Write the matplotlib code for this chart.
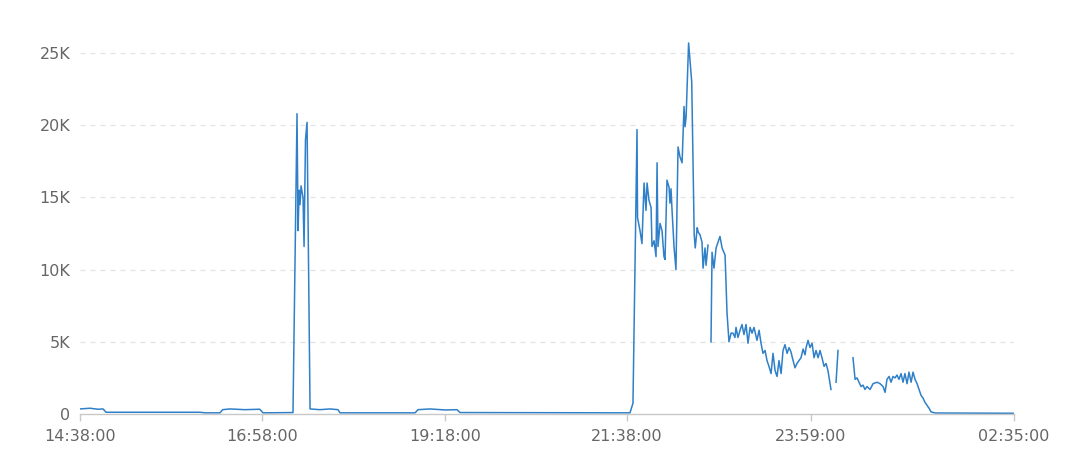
import matplotlib
matplotlib.use("Agg")
import matplotlib.pyplot as plt
import matplotlib.dates as mdates
import numpy as np
import pandas as pd

# minutes after 14:38:00, and values; NaN marks a gap in the series
minutes = [
    0, 7.7, 13.8, 17.7, 20, 92, 96, 107.5, 109.5, 115, 126.7, 138, 140.5,
    163.5, 166.6, 167.4, 168.2, 168.9, 169.7, 171.2, 172, 173.1, 174.3, 176.6,
    184.2, 191.9, 198, 199.6, 257.2, 259.5, 268.7, 280.2, 289.4, 291.7,
    422.2, 424.5, 427.6, 428, 429.9, 431.4, 433, 434.5, 435.3, 436.8, 438.4,
    439.1, 440.7, 442.2, 443, 443.7, 445.3, 446.8, 448.3, 449.1, 450.6, 452.2,
    452.9, 453.7, 454.5, 456, 457.5, 459.1, 460.6, 462.2, 463.7, 464.5, 465.3,
    467.2, 469.6, 471.5, 472.3, 473.8, 474.6, 476, 477.5, 478.3, 479.8, 480.6,
    482.1, 482.9,
    484.4, 485.2, 486.7, 488.3, 491.3, 492.9, 495.2, 496.7, 498.2, 499.8,
    501.3, 502.8, 503.6, 505.1, 506.7, 508.2, 509.7, 511.3, 512.8, 514.4,
    515.9, 517.4, 519.7, 521.3, 522.8, 524.3, 525.9, 527.4, 528.9, 530.5,
    532, 533.6, 535.1, 536.6, 538.2, 539.7, 541.2, 542.8, 544.3, 545.8,
    547.4, 548.9, 550.4, 552, 553.5, 555.1, 556.6, 557.4, 558.9, 560.4,
    562, 563.5, 565, 566.6, 568.1, 569.6, 571.2, 572.7, 574.2, 576.5, 578,
    580.4, 581.9, 587.3,
    593.4, 595, 596.5, 598, 599.6, 601.1, 602.6, 604.2, 606.5, 608.8, 611.9,
    614.2, 616.5, 618, 619.5, 621.1, 622.6, 624.1, 625.7, 627.2, 628.7,
    630.3, 631.8, 633.3, 634.9, 636.4, 638, 639.5, 641, 642.6, 644.1, 645.6,
    647.2, 648.7, 650.2, 651.8, 653.3, 656.4, 717,
]
values = [
    350, 400, 330, 350, 120, 120, 80, 80, 300, 350, 300, 330, 80,
    100, 20800, 12700, 15500, 14500, 15800, 15000, 11600, 19000, 20200, 350,
    300, 350, 300, 80, 80, 300, 350, 280, 300, 100,
    80, 750, 19700, 13600, 12700, 11800, 16000, 14100, 16000, 14800, 14300,
    11600, 12000, 10900, 17400, 11600, 13200, 12700, 10900, 10700, 16200, 15700,
    14600, 15600, 14100, 11600, 10000, 18500, 17800, 17400, 21300, 19900, 20600,
    25700, 23000, 12400, 11500, 12900, 12600, 12400, 11900, 10100, 11500, 10300,
    11700, np.nan,
    5000, 11200, 10100, 11500, 12300, 11500, 11000, 7000, 5000, 5600,
    5600, 5300, 6000, 5300, 5800, 6200, 5500, 6200, 4900, 6000,
    5600, 6000, 5100, 5800, 4900, 4200, 4400, 3700, 3300, 2800,
    4200, 3000, 2600, 3700, 2800, 4400, 4800, 4200, 4600, 4300,
    3700, 3200, 3500, 3700, 3900, 4500, 4100, 4600, 5100, 4600,
    4900, 3900, 4400, 3900, 4400, 3900, 3300, 3500, 3000, 1700, np.nan,
    2200, 4400, np.nan,
    3900, 2400, 2500, 2200, 1900, 2000, 1700, 1900, 1700, 2100, 2200,
    2100, 1900, 1500, 2400, 2600, 2200, 2600, 2500, 2700, 2400,
    2800, 2200, 2800, 2100, 2900, 2200, 2900, 2400, 2100, 1700, 1300,
    1100, 800, 600, 400, 150, 70, 50,
]
tick_labels = ["14:38:00", "16:58:00", "19:18:00", "21:38:00", "23:59:00", "02:35:00"]
y_ticks = [0, 5000, 10000, 15000, 20000, 25000]
y_labels = ["0", "5K", "10K", "15K", "20K", "25K"]

start = pd.Timestamp("2024-01-01 14:38:00")
times = start + pd.to_timedelta(minutes, unit="m")

tick_times = []
for lab in tick_labels:
    t = pd.Timestamp("2024-01-01 " + lab)
    if t < start:
        t += pd.Timedelta(days=1)
    tick_times.append(t)

fig = plt.figure(figsize=(10.8, 4.59), dpi=100)
ax = fig.add_axes([80 / 1080, 45 / 459, 934 / 1080, 382.6 / 459])

ax.plot(times, values, color="#2f80c8", linewidth=1.1)

ax.set_xlim(tick_times[0], tick_times[-1])
ax.set_ylim(0, 26500)
ax.set_xticks(tick_times)
ax.set_xticklabels(tick_labels)
ax.set_yticks(y_ticks)
ax.set_yticklabels(y_labels)

for y in y_ticks[1:]:
    ax.axhline(y, color="#e3e3e3", linewidth=0.9, linestyle=(0, (4, 4)), zorder=0)

for s in ["top", "right", "left"]:
    ax.spines[s].set_visible(False)
ax.spines["bottom"].set_color("#c8c8c8")
ax.spines["bottom"].set_linewidth(1.0)

ax.tick_params(axis="x", colors="#c8c8c8", length=5, width=1.0, labelcolor="#666666",
               labelsize=11.5, pad=6)
ax.tick_params(axis="y", length=0, labelcolor="#666666", labelsize=11.5, pad=7)

fig.savefig("out.png", dpi=100)
